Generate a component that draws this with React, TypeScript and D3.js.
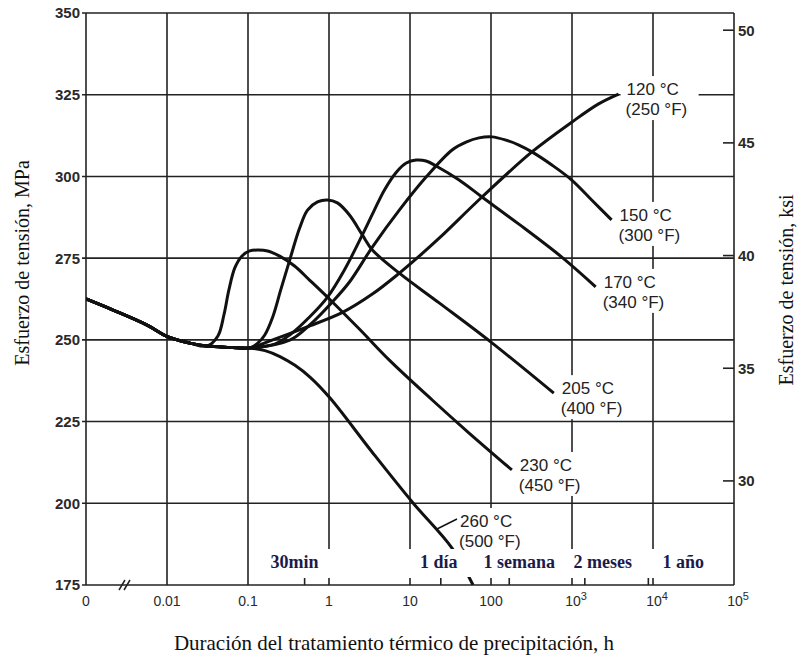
import React from 'react';
import * as d3 from 'd3';

// y axis (MPa) and secondary axis (ksi)
const mpaTicks = [175, 200, 225, 250, 275, 300, 325, 350];
const ksiTicks = [30, 35, 40, 45, 50];
const KSI_TO_MPA = 6.894757;

// x axis: log hours, "0" sits one decade left of 0.01
const decadeTicks = [0.001, 0.01, 0.1, 1, 10, 100, 1000, 10000, 100000];
const decadeBase = ['0', '0.01', '0.1', '1', '10', '100', '10', '10', '10'];
const decadeExp = ['', '', '', '', '', '', '3', '4', '5'];

// time marks (hours) along the bottom
const timeMarks = [0.5, 24, 168, 1440, 8760];
const timeMarkLabels = ['30min', '1 día', '1 semana', '2 meses', '1 año'];

// curves: [hours, MPa]
const base = [[0.001, 262.5], [0.00216, 259.1], [0.00568, 254.5], [0.0103, 250.9], [0.0192, 249.0], [0.031, 248.1]];
const plateau = [[0.06, 247.7], [0.105, 247.5]];

const c120 = [[0.202, 250.0], [0.528, 253.9], [1.47, 258.4], [3.43, 264.0], [7.38, 270.4], [13.0, 275.6], [22.9, 281.1], [77.4, 293.7], [320, 307.5], [993, 316.6], [2130, 322.2], [3760, 325.2]];
const c150 = [[0.327, 249.9], [0.575, 254.5], [1.10, 261.6], [1.79, 267.7], [3.43, 278.4], [7.38, 289.7], [15.8, 299.8], [33.1, 308.1], [49.2, 310.5], [71.1, 311.8], [103, 312.1], [153, 311.1], [221, 309.6], [320, 307.5], [564, 303.5], [993, 298.9], [1750, 292.8], [3080, 286.7]];
const c170 = [[0.213, 248.7], [0.327, 251.5], [0.575, 257.0], [0.959, 263.1], [1.55, 271.4], [2.58, 282.1], [3.63, 289.7], [4.82, 295.8], [6.78, 301.3], [8.99, 304.1], [11.9, 305.0], [15.8, 304.7], [21.0, 303.2], [40.4, 298.9], [77.4, 293.7], [221, 285.4], [748, 275.3], [1960, 266.2]];
const c205 = [[0.132, 249.0], [0.161, 251.5], [0.202, 257.0], [0.253, 265.2], [0.327, 274.4], [0.434, 284.2], [0.543, 289.7], [0.721, 292.2], [0.959, 292.8], [1.27, 291.9], [1.79, 288.2], [2.58, 282.1], [3.43, 277.5], [7.38, 270.4], [22.9, 261.3], [100, 249.3], [596, 233.7]];
const c230 = [[0.0425, 251.2], [0.0504, 257.6], [0.058, 265.2], [0.0687, 272.0], [0.0838, 275.6], [0.105, 277.2], [0.132, 277.5], [0.175, 277.2], [0.246, 275.6], [0.376, 272.6], [0.575, 268.3], [1.01, 262.5], [2.37, 253.3], [5.56, 243.8], [18.8, 231.6], [53.6, 221.5], [181, 210.2]];
const c260 = [[0.162, 246.7], [0.248, 244.9], [0.380, 242.2], [0.582, 238.6], [1.03, 232.2], [3.40, 215.7], [10.9, 200.1], [33.0, 186.3], [60, 175]];

const tempC = [120, 150, 170, 205, 230, 260];
const tempF = [250, 300, 340, 400, 450, 500];

const W = 798;
const H = 659;

export default function App() {
  const x = d3.scaleLog().domain([0.001, 100000]).range([86, 734]);
  const y = d3.scaleLinear().domain([175, 350]).range([585, 13]);

  const series = [
    [...base, ...plateau, ...c120],
    [...base, ...plateau, ...c150],
    [...base, ...plateau, ...c170],
    [...base, ...plateau, ...c205],
    [...base, ...c230],
    [...base, ...plateau, ...c260],
  ];

  const line = d3.line<number[]>()
    .x(d => x(d[0]))
    .y(d => y(d[1]))
    .curve(d3.curveCatmullRom.alpha(0.5));

  const left = x.range()[0];
  const right = x.range()[1];
  const top = y(350);
  const bottom = y(175);
  const stripTop = 549;
  const stripBottom = 577;

  const gridStroke = '#222';
  const tickFont = "'Liberation Sans', Arial, sans-serif";
  const serif = "'Liberation Serif', 'Times New Roman', serif";

  const markDx = [-10, -2, 10, 18, 35];

  // label positions follow the end of each curve
  const labels = series.map((s, i) => {
    const end = s[s.length - 1];
    if (i === 5) return { lx: 460, ly: 527 };
    return { lx: x(end[0]) + 8, ly: y(end[1]) + 1 };
  });

  return (
    <svg width={W} height={H} style={{ display: 'block', position: 'absolute', left: 0, top: 0, background: '#fff' }}>
      <defs>
        <clipPath id="plot">
          <rect x={left} y={top} width={right - left} height={bottom - top} />
        </clipPath>
      </defs>
      <rect x={0} y={0} width={W} height={H} fill="#fff" />

      {/* horizontal grid */}
      {mpaTicks.map(v => (
        <line key={'h' + v} x1={left - 4} x2={right} y1={y(v)} y2={y(v)} stroke={gridStroke} strokeWidth={1.6} />
      ))}
      {/* vertical grid */}
      {decadeTicks.map(t => {
        const full = t <= 0.1 || t >= 100000;
        return (
          <g key={'v' + t}>
            <line x1={x(t)} x2={x(t)} y1={top} y2={full ? bottom : stripTop} stroke={gridStroke} strokeWidth={1.6} />
            {!full && <line x1={x(t)} x2={x(t)} y1={stripBottom + 1} y2={bottom} stroke={gridStroke} strokeWidth={1.6} />}
          </g>
        );
      })}
      {timeMarks.map(t => (
        <line key={'m' + t} x1={x(t)} x2={x(t)} y1={stripBottom + 1} y2={bottom} stroke={gridStroke} strokeWidth={1.6} />
      ))}

      {/* right ksi ticks */}
      {ksiTicks.map(k => (
        <line key={'k' + k} x1={right - 11} x2={right} y1={y(k * KSI_TO_MPA)} y2={y(k * KSI_TO_MPA)} stroke={gridStroke} strokeWidth={1.6} />
      ))}

      {/* label backgrounds break the grid */}
      {labels.map((l, i) => (
        <rect key={'lb' + i} x={l.lx - 6} y={l.ly - 19} width={78} height={44} fill="#fff" />
      ))}

      {/* curves */}
      <g clipPath="url(#plot)">
        {series.map((s, i) => (
          <path key={'c' + i} d={line(s) || ''} fill="none" stroke="#111" strokeWidth={3} strokeLinejoin="round" />
        ))}
      </g>

      {/* white strip for the time labels */}
      <rect x={256} y={stripTop} width={730 - 256} height={stripBottom - stripTop} fill="#fff" />

      {/* leader for 260 */}
      <line x1={437} y1={529} x2={457} y2={519} stroke="#111" strokeWidth={1.5} />

      {/* axis break mark */}
      <line x1={119} y1={590} x2={125} y2={580} stroke={gridStroke} strokeWidth={1.5} />
      <line x1={124} y1={590} x2={130} y2={580} stroke={gridStroke} strokeWidth={1.5} />

      {/* curve labels */}
      {labels.map((l, i) => (
        <g key={'lt' + i} fontFamily={tickFont} fontSize={17} fill="#222">
          <text x={l.lx} y={l.ly}>{tempC[i]} °C</text>
          <text x={l.lx - 1} y={l.ly + 20}>({tempF[i]} °F)</text>
        </g>
      ))}

      {/* time mark labels */}
      {timeMarks.map((t, i) => (
        <text key={'tl' + i} x={x(t) + markDx[i]} y={568} textAnchor="middle" fontFamily={serif} fontWeight="bold" fontSize={18} fill="#1b1b4b">
          {timeMarkLabels[i]}
        </text>
      ))}

      {/* left axis labels */}
      {mpaTicks.map(v => (
        <text key={'yl' + v} x={80} y={y(v)} dy="0.36em" textAnchor="end" fontFamily={tickFont} fontWeight="bold" fontSize={15} fill="#2a2a2a">
          {v}
        </text>
      ))}
      {/* right axis labels */}
      {ksiTicks.map(k => (
        <text key={'kl' + k} x={738} y={y(k * KSI_TO_MPA)} dy="0.36em" fontFamily={tickFont} fontWeight="bold" fontSize={15} fill="#2a2a2a">
          {k}
        </text>
      ))}
      {/* bottom axis labels */}
      {decadeTicks.map((t, i) => (
        <text key={'xl' + t} x={x(t) + (decadeExp[i] ? 4 : 0)} y={606} textAnchor="middle" fontFamily={tickFont} fontSize={14} fill="#2a2a2a">
          {decadeBase[i]}
          {decadeExp[i] && <tspan dy={-6} fontSize={11}>{decadeExp[i]}</tspan>}
        </text>
      ))}

      {/* axis titles */}
      <text x={394} y={650} textAnchor="middle" fontFamily={serif} fontSize={21} fill="#111">
        Duración del tratamiento térmico de precipitación, h
      </text>
      <text transform="translate(29,263) rotate(-90)" textAnchor="middle" fontFamily={serif} fontSize={20} fill="#111">
        Esfuerzo de tensión, MPa
      </text>
      <text transform="translate(793,290) rotate(-90)" textAnchor="middle" fontFamily={serif} fontSize={20} fill="#111">
        Esfuerzo de tensión, ksi
      </text>
    </svg>
  );
}
